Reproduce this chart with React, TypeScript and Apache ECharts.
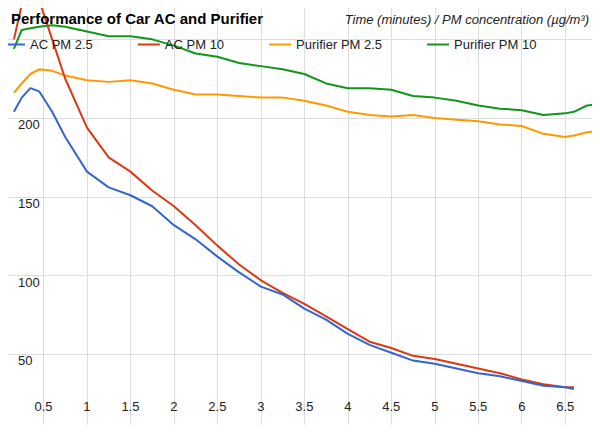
import React, { useEffect, useRef } from 'react';
import * as echarts from 'echarts';

const times = [0.16, 0.25, 0.35, 0.45, 0.6, 0.75, 1, 1.25, 1.5, 1.75, 2, 2.25, 2.5, 2.75, 3, 3.25, 3.5, 3.75, 4, 4.25, 4.5, 4.75, 5, 5.25, 5.5, 5.75, 6, 6.25, 6.5, 6.6, 6.75, 6.9];
const acPm25 = [204, 213, 219, 217, 204, 188, 166, 156, 151, 144, 132, 123, 112, 102, 93, 88, 79, 72, 63, 56, 51, 46, 44, 41, 38, 36, 33, 30, 29, 28];
const acPm10 = [250, 272, 280, 275, 250, 225, 194, 175, 166, 154, 144, 132, 119, 107, 97, 89, 82, 74, 66, 58, 54, 49, 47, 44, 41, 38, 34, 31, 29, 29];
const purPm25 = [216, 222, 228, 231, 230, 227, 224, 223, 224, 222, 218, 215, 215, 214, 213, 213, 211, 208, 204, 202, 201, 202, 200, 199, 198, 196, 195, 190, 188, 189, 191, 192];
const purPm10 = [244, 256, 257, 258, 259, 258, 255, 252, 252, 250, 246, 241, 239, 235, 233, 231, 228, 222, 219, 219, 218, 214, 213, 211, 208, 206, 205, 202, 203, 204, 208, 209];

const names = ['AC PM 2.5', 'AC PM 10', 'Purifier PM 2.5', 'Purifier PM 10'];
const colors = ['#3366cc', '#dc3912', '#ff9900', '#109618'];

const pair = (vals: number[]) => vals.map((v, i) => [times[i], v]);

export default function App() {
  const ref = useRef<HTMLDivElement>(null);

  useEffect(() => {
    if (!ref.current) return;
    const chart = echarts.init(ref.current, null, { renderer: 'svg' });
    const font = 'Arial, "Liberation Sans", sans-serif';
    chart.setOption({
      animation: false,
      backgroundColor: '#fff',
      color: colors,
      title: [
        { text: 'Performance of Car AC and Purifier', left: 6, top: 6, textStyle: { fontFamily: font, fontSize: 15, fontWeight: 'bold', color: '#000' } },
        { text: 'Time (minutes) / PM concentration (µg/m³)', right: 6, top: 8, textStyle: { fontFamily: font, fontSize: 13, fontStyle: 'italic', fontWeight: 'normal', color: '#222' } },
      ],
      legend: {
        left: -2, top: 33, itemWidth: 22, itemHeight: 2, itemGap: 45, icon: 'rect',
        textStyle: { fontFamily: font, fontSize: 13, color: '#222' },
        data: names,
      },
      grid: { left: -14, right: 0, top: 0, bottom: -8 },
      xAxis: {
        type: 'value', min: 0, max: 6.9, interval: 0.5,
        axisLine: { show: false }, axisTick: { show: false },
        splitLine: { lineStyle: { color: '#ddd' } },
        axisLabel: {
          inside: true, margin: 20, color: '#222', fontFamily: font, fontSize: 13,
          showMinLabel: false, showMaxLabel: false,
          formatter: (v: number) => (v === 0 ? '' : String(v)),
        },
      },
      yAxis: {
        type: 'value', min: 0, max: 275, interval: 50,
        axisLine: { show: false }, axisTick: { show: false },
        splitLine: { lineStyle: { color: '#ddd' } },
        axisLabel: {
          inside: true, margin: 18, color: '#222', fontFamily: font, fontSize: 13,
          verticalAlign: 'top', showMinLabel: false, showMaxLabel: false,
          formatter: (v: number) => (v === 0 || v === 250 ? '' : String(v)),
        },
      },
      series: [acPm25, acPm10, purPm25, purPm10].map((vals, i) => ({
        name: names[i], type: 'line', data: pair(vals), showSymbol: false,
        lineStyle: { width: 2, color: colors[i] }, z: 4 - i,
      })),
    });
    return () => chart.dispose();
  }, []);

  return <div ref={ref} style={{ width: 600, height: 433, margin: -8 }} />;
}
